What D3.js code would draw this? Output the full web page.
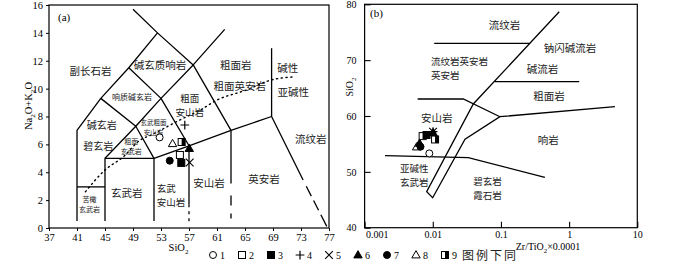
<!DOCTYPE html>
<html><head><meta charset="utf-8">
<script src="https://cdn.jsdelivr.net/npm/d3@7/dist/d3.min.js"></script>
<style>body{margin:0;background:#fff}svg{display:block}</style>
</head><body>
<svg id="chart" width="700" height="261"></svg>
<script>
// ---------------- DATA ----------------
// Sample symbols 1..9
const legendIds = [1,2,3,4,5,6,7,8,9];
const legendNote = "图例下同";

// Panel (a) TAS: SiO2 vs Na2O+K2O
const tasSymbol = [1, 8, 9, 2, 7, 3, 6, 5, 4];
const tasSiO2   = [52.8, 54.65, 55.95, 55.7, 54.25, 55.9, 57.04, 57.1, 56.4];
const tasAlkali = [6.5, 6.05, 6.17, 5.24, 4.83, 4.67, 5.7, 4.7, 7.39];
const tasXTicks = [37,41,45,49,53,57,61,65,69,73,77];
const tasYTicks = [0,2,4,6,8,10,12,14,16];

// TAS boundaries (SiO2, alkali)
const tasSolid = [
  [[41,0.5],[41,7],[44.4,9.3],[48.4,11.5],[52.5,14],[49,15.7]],
  [[41,2.95],[45,2.95]],
  [[45,0.5],[45,5],[52,5],[52,0.5]],
  [[45,5],[49.4,7.3],[52,5]],
  [[44.4,9.3],[49.4,7.3],[53,9.3],[57.6,11.7],[62.1,14.25]],
  [[48.4,11.5],[53,9.3],[57,5.9]],
  [[52.5,14],[57.6,11.7],[63,7],[68.8,8],[73.3,3.44]],
  [[52,5],[57,5.9],[63,7]],
  [[57,5.9],[57,1.7]],
  [[63,7],[63,3.2]],
  [[68.8,8],[68.8,12.9]]
];
const tasDashed = [
  [[57,1.7],[57,0.4]],
  [[63,3.2],[63,0.6]],
  [[73.3,3.44],[76.7,0.1]]
];
const alkDivide = [[42.2,2.6],[45,4.16],[47.6,5.1],[50,6.3],[51.7,6.7],[55.7,7.75],[58.6,8.46],[61,9.18],[65.2,9.9],[68.6,10.6],[72.1,10.85]];

// TAS field names ("\n" = line break)
const tasNames = ["副长石岩","碱玄质响岩","响质碱玄岩","粗面岩","粗面英安岩","碱性","亚碱性",
  "粗面\n安山岩","碱玄岩","碧玄岩","玄武粗面\n安山岩","粗面\n玄武岩","苦橄\n玄武岩",
  "玄武岩","玄武\n安山岩","安山岩","英安岩","流纹岩"];

// Panel (b): Zr/TiO2*0.0001 vs SiO2
const zrSymbol = [1, 8, 7, 6, 2, 3, 9, 6, 5, 4];
const zrRatio  = [0.0089, 0.0058, 0.0066, 0.0064, 0.0071, 0.0081, 0.0108, 0.0101, 0.0101, 0.0101];
const zrSiO2   = [53.3, 54.45, 54.5, 55.1, 56.4, 56.6, 55.8, 57.0, 57.2, 57.2];
const zrXTicks = [0.001, 0.01, 0.1, 1, 10];
const zrXLabels = ["0.001","0.01","0.1","1","10"];
const zrYTicks = [40,50,60,70,80];

const wfLines = [
  [[0.716,78.67],[0.0393,62.15],[0.00814,46.45],[0.00997,45.37],[0.0297,55.83],[0.0966,59.87],[4.7,61.67]],
  [[0.0105,73.0],[0.266,73.0]],
  [[0.0817,66.14],[1.406,66.14]],
  [[0.006,63.04],[0.028,63.04],[0.0966,59.87]],
  [[0.00199,52.89],[0.0332,52.53],[0.441,49.02]]
];
const wfNames = ["流纹岩","钠闪碱流岩","流纹岩英安岩\n英安岩","碱流岩","粗面岩","安山岩","响岩",
  "亚碱性\n玄武岩","碧玄岩\n霞石岩"];

// ---------------- LAYOUT ----------------
const SERIF = "'Liberation Serif','Times New Roman',serif";
const CJK = "'Noto Sans CJK SC','Noto Sans CJK JP',sans-serif";
const svg = d3.select("#chart");

// label placement: [x(data), y(data), fontSize, lineHeight, anchor]
const tasNamePos = [
  [42.93,11.26,10.5,0,"middle"],[52.86,11.64,10.5,0,"middle"],[48.86,9.35,8,0,"middle"],
  [63.67,11.69,10.5,0,"middle"],[64.24,10.14,10.5,0,"middle"],
  [71.1,11.46,10.5,0,"middle"],[71.9,9.73,10.5,0,"middle"],[57.1,8.75,9.5,14,"middle"],
  [44.53,7.34,10,0,"middle"],[44.04,5.88,10,0,"middle"],[51.93,7.2,6.5,9.6,"middle"],
  [48.76,5.82,7,10.3,"middle"],[42.8,1.69,7,10.3,"middle"],[48.1,2.49,10.5,0,"middle"],
  [52.39,2.3,9.5,14,"start"],[59.86,3.21,10.5,0,"middle"],[67.71,3.49,10.5,0,"middle"],
  [74.39,6.36,10.5,0,"middle"]
];
const wfNamePos = [
  [0.1132,76.29,10.5,0,"middle"],[1.027,72.12,10.5,0,"middle"],[0.00942,68.39,9.5,14,"start"],
  [0.4057,68.36,10.5,0,"middle"],[0.506,63.46,10.5,0,"middle"],[0.0114,59.59,10.5,0,"middle"],
  [0.494,55.7,10.5,0,"middle"],[0.00533,49.35,9.5,14,"middle"],[0.0634,46.9,9.5,14,"middle"]
];

function placeNames(g, names, pos, xs, ys) {
  names.forEach((name, i) => {
    const [px, py, fs, lh, anchor] = pos[i];
    const lines = name.split("\n");
    const x = xs(px), y = ys(py);
    const t = g.append("text").attr("x", x).attr("y", y).attr("text-anchor", anchor)
      .attr("font-family", CJK).attr("font-size", fs).attr("fill", "#222");
    lines.forEach((ln, j) => {
      t.append("tspan").attr("x", x)
        .attr("dy", j === 0 ? (0.35 * fs - (lines.length - 1) * lh / 2) : lh)
        .text(ln);
    });
  });
}

function richText(sel, parts, size) {
  parts.forEach(([t, sub], i) => {
    const prevSub = i > 0 && parts[i-1][1];
    let dy = 0;
    if (sub && !prevSub) dy = size * 0.3;
    if (!sub && prevSub) dy = -size * 0.3;
    sel.append("tspan").attr("dy", dy).attr("font-size", sub ? size * 0.68 : size).text(t);
  });
}

function drawMarker(g, type, x, y, s) {
  const h = s / 2;
  const sw = 1;
  if (type === 1 || type === 7) {
    g.append("circle").attr("cx", x).attr("cy", y).attr("r", h)
      .attr("fill", type === 7 ? "#000" : "#fff").attr("stroke", "#000").attr("stroke-width", sw);
  } else if (type === 2 || type === 3) {
    g.append("rect").attr("x", x - h).attr("y", y - h).attr("width", s).attr("height", s)
      .attr("fill", type === 3 ? "#000" : "#fff").attr("stroke", "#000").attr("stroke-width", sw);
  } else if (type === 9) {
    g.append("rect").attr("x", x - h).attr("y", y - h).attr("width", s).attr("height", s)
      .attr("fill", "#fff").attr("stroke", "#000").attr("stroke-width", sw);
    g.append("rect").attr("x", x).attr("y", y - h).attr("width", h).attr("height", s).attr("fill", "#000");
  } else if (type === 6 || type === 8) {
    g.append("path").attr("transform", `translate(${x},${y + 0.5})`)
      .attr("d", d3.symbol(d3.symbolTriangle, s * s * 0.62)())
      .attr("fill", type === 6 ? "#000" : "#fff").attr("stroke", "#000").attr("stroke-width", sw);
  } else if (type === 4) {
    const a = h * 1.25;
    g.append("path").attr("d", `M${x - a},${y}H${x + a}M${x},${y - a}V${y + a}`)
      .attr("stroke", "#000").attr("stroke-width", 1.2).attr("fill", "none");
  } else if (type === 5) {
    const a = h * 1.1;
    g.append("path").attr("d", `M${x - a},${y - a}L${x + a},${y + a}M${x - a},${y + a}L${x + a},${y - a}`)
      .attr("stroke", "#000").attr("stroke-width", 1.1).attr("fill", "none");
  }
}

// ---------------- PANEL (a) ----------------
const xA = d3.scaleLinear().domain([37, 77]).range([49, 329]);
const yA = d3.scaleLinear().domain([0, 16]).range([228, 5]);
const gA = svg.append("g");
const lineA = d3.line().x(d => xA(d[0])).y(d => yA(d[1]));

gA.append("rect").attr("x", xA(37)).attr("y", yA(16)).attr("width", xA(77) - xA(37))
  .attr("height", yA(0) - yA(16)).attr("fill", "none").attr("stroke", "#000").attr("stroke-width", 1.2);

const axA_x = gA.append("g").attr("transform", `translate(0,${yA(0)})`)
  .call(d3.axisBottom(xA).tickValues(tasXTicks).tickSize(3).tickPadding(3).tickFormat(d3.format("d")));
const axA_y = gA.append("g").attr("transform", `translate(${xA(37)},0)`)
  .call(d3.axisLeft(yA).tickValues(tasYTicks).tickSize(3).tickPadding(3).tickFormat(d3.format("d")));
[axA_x, axA_y].forEach(ax => {
  ax.select(".domain").remove();
  ax.selectAll("text").attr("font-family", SERIF).attr("font-size", 10.5).attr("fill", "#000");
  ax.selectAll("line").attr("stroke", "#000");
});

gA.selectAll(".solid").data(tasSolid).enter().append("path").attr("d", lineA)
  .attr("fill", "none").attr("stroke", "#000").attr("stroke-width", 1.3).attr("stroke-linejoin", "round");
const dashPatterns = ["3,4", "0,12,10,8,5,20", "0,7,11,5,11,5,13,10"];
gA.selectAll(".dash").data(tasDashed).enter().append("path").attr("d", lineA)
  .attr("fill", "none").attr("stroke", "#000").attr("stroke-width", 1.3)
  .attr("stroke-dasharray", (d, i) => dashPatterns[i]);
gA.append("path").attr("d", d3.line().x(d => xA(d[0])).y(d => yA(d[1])).curve(d3.curveMonotoneX)(alkDivide))
  .attr("fill", "none").attr("stroke", "#000").attr("stroke-width", 1.4)
  .attr("stroke-dasharray", "1.2,3.6").attr("stroke-linecap", "round");

placeNames(gA, tasNames, tasNamePos, xA, yA);

gA.append("text").attr("x", 58).attr("y", 21).attr("font-family", SERIF).attr("font-size", 11).text("(a)");

richText(gA.append("text").attr("x", xA(55.5)).attr("y", 251).attr("text-anchor", "middle")
  .attr("font-family", SERIF), [["SiO",false],["2",true]], 10.5);
richText(gA.append("text").attr("transform", "translate(32,106) rotate(-90)").attr("text-anchor", "middle")
  .attr("font-family", SERIF), [["Na",false],["2",true],["O+K",false],["2",true],["O",false]], 10.5);

tasSymbol.forEach((t, i) => drawMarker(gA, t, xA(tasSiO2[i]), yA(tasAlkali[i]), 7));

// ---------------- PANEL (b) ----------------
const xB = d3.scaleLog().domain([0.001, 10]).range([364.6, 637.3]);
const yB = d3.scaleLinear().domain([40, 80]).range([227.7, 4.3]);
const gB = svg.append("g");
const lineB = d3.line().x(d => xB(d[0])).y(d => yB(d[1]));

gB.append("rect").attr("x", xB(0.001)).attr("y", yB(80)).attr("width", xB(10) - xB(0.001))
  .attr("height", yB(40) - yB(80)).attr("fill", "none").attr("stroke", "#000").attr("stroke-width", 1.2);

const axB_x = gB.append("g").attr("transform", `translate(0,${yB(40)})`)
  .call(d3.axisBottom(xB).tickValues(zrXTicks).tickSizeInner(-6).tickSizeOuter(0).tickPadding(3)
    .tickFormat((d, i) => zrXLabels[i]));
const axB_y = gB.append("g").attr("transform", `translate(${xB(0.001)},0)`)
  .call(d3.axisLeft(yB).tickValues(zrYTicks).tickSizeInner(-6).tickSizeOuter(0).tickPadding(8));
[axB_x, axB_y].forEach(ax => {
  ax.select(".domain").remove();
  ax.selectAll("text").attr("font-family", SERIF).attr("font-size", 10).attr("fill", "#000");
  ax.selectAll("line").attr("stroke", "#000").attr("stroke-width", 1.1);
});
axB_x.selectAll("text").filter((d, i) => i === 0).attr("text-anchor", "start").attr("x", 1);

gB.selectAll(".wf").data(wfLines).enter().append("path").attr("d", lineB)
  .attr("fill", "none").attr("stroke", "#000").attr("stroke-width", 1.3).attr("stroke-linejoin", "miter");

placeNames(gB, wfNames, wfNamePos, xB, yB);

gB.append("text").attr("x", 370).attr("y", 17).attr("font-family", SERIF).attr("font-size", 11).text("(b)");
richText(gB.append("text").attr("x", 548).attr("y", 249.5).attr("text-anchor", "middle")
  .attr("font-family", SERIF), [["Zr/TiO",false],["2",true],["×0.0001",false]], 10);
richText(gB.append("text").attr("transform", "translate(353,87) rotate(-90)").attr("text-anchor", "middle")
  .attr("font-family", SERIF), [["SiO",false],["2",true]], 10);

zrSymbol.forEach((t, i) => drawMarker(gB, t, xB(zrRatio[i]), yB(zrSiO2[i]), 7));

// ---------------- LEGEND ----------------
const legX = d3.scaleLinear().domain([1, 9]).range([213, 445]);
const gL = svg.append("g");
legendIds.forEach(id => {
  drawMarker(gL, id, legX(id), 255, 7);
  gL.append("text").attr("x", legX(id) + 7).attr("y", 258.5).attr("font-family", SERIF)
    .attr("font-size", 10).text(id);
});
gL.append("text").attr("x", 462).attr("y", 259.5).attr("font-family", CJK).attr("font-size", 12)
  .attr("letter-spacing", 2).attr("fill", "#222").text(legendNote);
</script>
</body></html>
